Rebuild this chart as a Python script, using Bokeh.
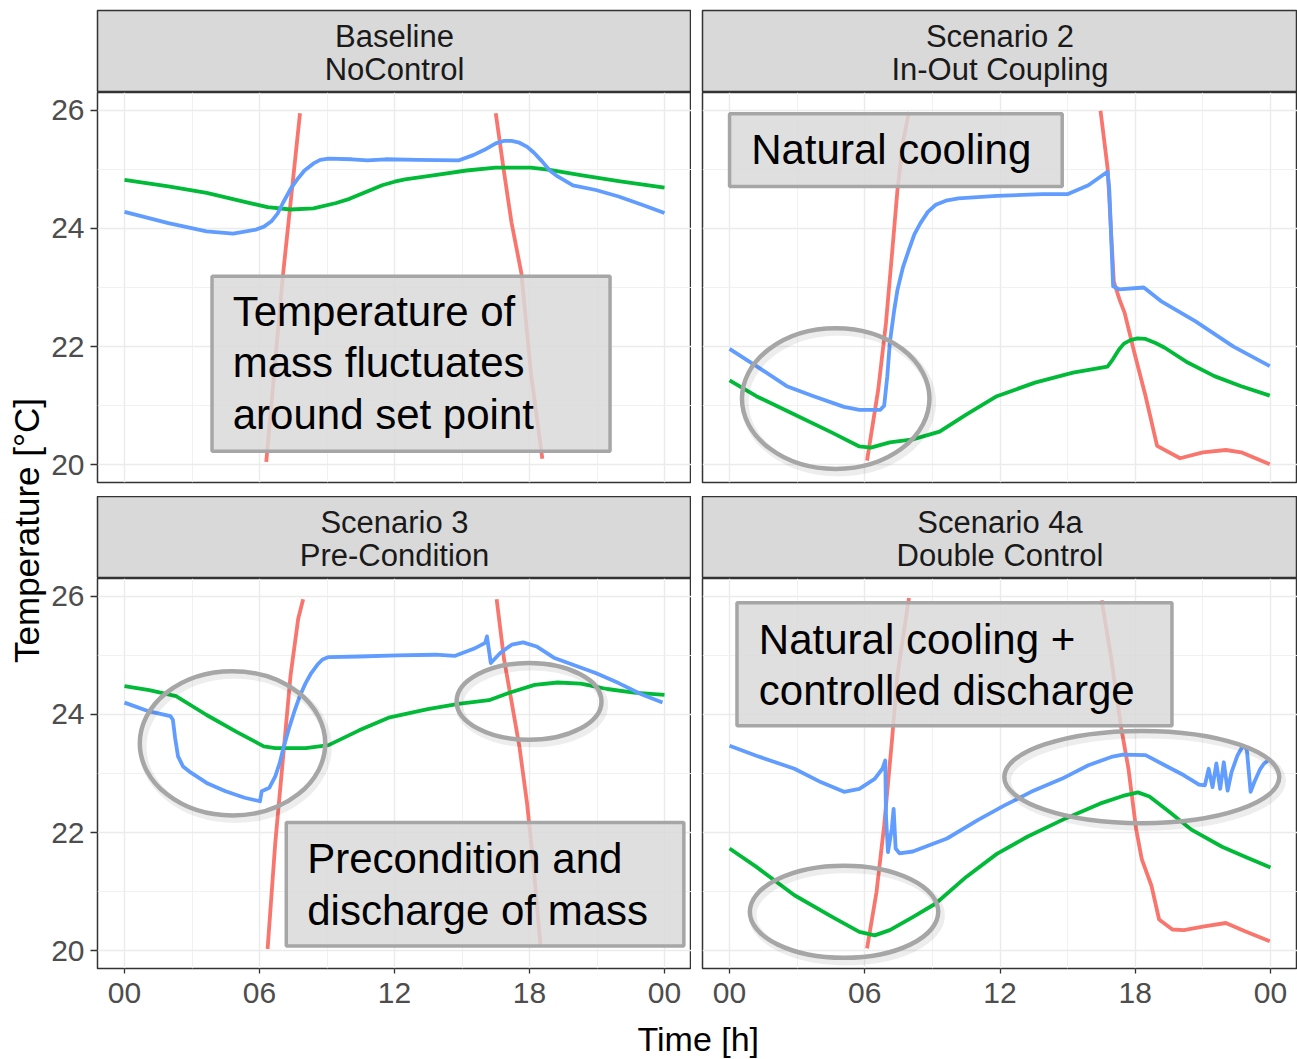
import math
from bokeh.plotting import figure
from bokeh.layouts import row, column
from bokeh.models import Range1d, LinearAxis, FixedTicker, Grid
from bokeh.core.properties import value
from bokeh.embed import file_html
from bokeh.resources import INLINE

nan = float("nan")

# ---------------- data ----------------
x_ticks = [0, 6, 12, 18, 24]
x_minor = [3, 9, 15, 21]
x_tick_labels = ["00", "06", "12", "18", "00"]
y_ticks = [20, 22, 24, 26]
y_minor = [21, 23, 25]
y_tick_labels = ["20", "22", "24", "26"]

strip_tl = ["Baseline", "NoControl"]
strip_tr = ["Scenario 2", "In-Out Coupling"]
strip_bl = ["Scenario 3", "Pre-Condition"]
strip_br = ["Scenario 4a", "Double Control"]

# Baseline / NoControl
tl_blue_t = [0, 1.95, 3.65, 4.83, 5.85, 6.2, 6.53, 6.8, 7.04, 7.4, 7.72, 8.0, 8.4, 8.7, 9.07, 10.1, 10.8, 11.6,
             13.0, 14.84, 15.5, 16.0, 16.5, 16.85, 17.2, 17.55, 17.9, 18.2, 18.57, 18.9, 19.25, 19.93, 20.95,
             21.96, 23.0, 24.0]
tl_blue_v = [24.28, 24.09, 23.95, 23.91, 23.98, 24.03, 24.12, 24.25, 24.43, 24.68, 24.85, 24.98, 25.1, 25.16,
             25.18, 25.17, 25.15, 25.17, 25.16, 25.15, 25.24, 25.33, 25.44, 25.48, 25.48, 25.45, 25.38, 25.28,
             25.13, 24.98, 24.88, 24.73, 24.65, 24.54, 24.4, 24.26]
tl_green_t = [0, 1.95, 3.65, 5.34, 6.36, 7.38, 8.4, 9.41, 10.0, 10.43, 11.0, 11.45, 12.0, 12.47, 13.8, 15.2,
              16.5, 18.06, 18.9, 20.27, 21.96, 24.0]
tl_green_v = [24.82, 24.71, 24.6, 24.45, 24.36, 24.32, 24.34, 24.43, 24.5, 24.57, 24.66, 24.73, 24.79, 24.83,
              24.9, 24.98, 25.03, 25.03, 24.99, 24.9, 24.8, 24.69]
tl_red_t = [6.3, 7.04, 7.8, nan, 16.5, 16.85, 17.2, 17.64, 18.06, 18.57]
tl_red_v = [20.05, 23.2, 25.95, nan, 25.95, 25.0, 24.1, 23.24, 21.56, 20.1]

# Scenario 2 / In-Out Coupling
tr_blue_t = [0, 1.19, 2.54, 3.73, 5.08, 5.76, 6.69, 6.86, 7.0, 7.11, 7.3, 7.45, 7.7, 7.96, 8.2, 8.47, 8.8, 9.15,
             9.6, 10.16, 11.86, 13.89, 14.99, 15.92, 16.77, 16.85, 17.02, 17.28, 18.38, 19.14, 20.66, 22.36,
             23.97]
tr_blue_v = [21.96, 21.67, 21.33, 21.16, 20.98, 20.93, 20.93, 21.0, 21.5, 22.06, 22.6, 22.96, 23.35, 23.64, 23.9,
             24.09, 24.28, 24.4, 24.47, 24.51, 24.55, 24.58, 24.58, 24.73, 24.96, 24.65, 23.02, 22.97, 23.0,
             22.77, 22.43, 22.0, 21.67]
tr_green_t = [0, 1.19, 2.88, 4.57, 5.76, 6.27, 7.11, 8.13, 9.32, 10.5, 11.86, 13.55, 15.24, 16.77, 17.0, 17.28,
              17.5, 17.79, 18.1, 18.46, 18.9, 19.31, 20.33, 21.51, 22.7, 23.97]
tr_green_v = [21.43, 21.16, 20.85, 20.54, 20.31, 20.29, 20.38, 20.43, 20.56, 20.85, 21.16, 21.39, 21.56, 21.66,
              21.78, 21.95, 22.05, 22.11, 22.14, 22.13, 22.06, 21.98, 21.73, 21.5, 21.33, 21.17]
tr_red_t = [6.1, 6.6, 6.94, 7.2, 7.45, 7.71, 7.96, nan, 16.46, 16.62, 16.78, 16.92, 17.05, 17.3, 17.53, 17.96,
            18.46, 18.97, 19.99, 21.0, 22.02, 22.7, 23.97]
tr_red_v = [20.07, 21.28, 22.4, 23.53, 24.65, 25.49, 25.97, nan, 25.99, 25.5, 25.0, 24.0, 23.1, 22.8, 22.57,
            21.9, 21.16, 20.32, 20.11, 20.21, 20.25, 20.21, 20.01]

# Scenario 3 / Pre-Condition
bl_blue_t = [0, 1.1, 2.04, 2.15, 2.25, 2.38, 2.6, 2.97, 3.65, 4.49, 5.34, 6.02, 6.1, 6.44, 6.7, 6.9, 7.04, 7.3,
             7.55, 7.8, 8.05, 8.3, 8.57, 8.8, 9.07, 10.43, 12.13, 13.82, 14.67, 15.52, 16.03, 16.11, 16.28, 16.7,
             17.21, 17.72, 18.31, 19.08, 19.93, 20.94, 21.96, 22.97, 23.91]
bl_blue_v = [24.2, 24.05, 23.97, 23.91, 23.6, 23.29, 23.12, 23.01, 22.84, 22.7, 22.59, 22.53, 22.7, 22.76, 22.95,
             23.18, 23.4, 23.75, 24.05, 24.32, 24.53, 24.7, 24.84, 24.93, 24.97, 24.98, 25.0, 25.01, 24.99, 25.11,
             25.21, 25.32, 24.87, 25.04, 25.18, 25.22, 25.15, 24.96, 24.84, 24.7, 24.53, 24.34, 24.2]
bl_green_t = [0, 1.1, 2.29, 3.65, 5.0, 6.19, 6.7, 8.06, 9.07, 10.43, 11.79, 13.48, 14.84, 16.2, 17.21, 18.23,
              19.25, 20.27, 21.45, 22.64, 24.0]
bl_green_v = [24.48, 24.41, 24.31, 23.99, 23.7, 23.46, 23.43, 23.43, 23.48, 23.73, 23.95, 24.09, 24.18, 24.24,
              24.38, 24.5, 24.54, 24.52, 24.43, 24.37, 24.33]
bl_red_t = [6.36, 6.7, 7.04, 7.38, 7.72, 7.94, nan, 16.54, 16.87, 17.21, 17.55, 17.89, 18.15, 18.49]
bl_red_v = [20.03, 21.82, 23.24, 24.66, 25.62, 25.95, nan, 25.95, 24.93, 24.2, 23.46, 22.5, 21.55, 20.08]

# Scenario 4a / Double Control
br_blue_t = [0, 1.19, 2.88, 4.07, 5.08, 5.76, 6.44, 6.78, 6.91, 6.94, 7.03, 7.2, 7.28, 7.37, 7.54, 8.13, 9.65,
             11.01, 12.2, 13.38, 14.74, 15.92, 16.94, 17.45, 18.46, 19.31, 20.16, 20.83, 21.09, 21.26, 21.43,
             21.6, 21.77, 21.93, 22.1, 22.27, 22.53, 22.78, 22.95, 23.12, 23.29, 23.55, 23.72, 24.0]
br_blue_v = [23.47, 23.3, 23.08, 22.85, 22.69, 22.74, 22.91, 23.08, 23.22, 22.29, 21.67, 22.07, 22.4, 21.73,
             21.65, 21.68, 21.9, 22.21, 22.46, 22.69, 22.91, 23.14, 23.28, 23.32, 23.31, 23.14, 22.97, 22.81,
             22.8, 23.08, 22.77, 23.17, 22.74, 23.19, 22.71, 23.02, 23.3, 23.47, 23.41, 22.69, 22.86, 23.08,
             23.17, 23.25]
br_green_t = [0, 1.19, 2.88, 4.57, 5.76, 6.44, 7.11, 8.13, 9.15, 10.5, 11.86, 13.21, 14.91, 16.43, 17.45, 18.12,
              18.63, 19.48, 20.49, 21.85, 22.87, 24.0]
br_green_v = [21.73, 21.42, 20.94, 20.57, 20.32, 20.26, 20.35, 20.57, 20.8, 21.25, 21.64, 21.93, 22.24, 22.49,
              22.62, 22.68, 22.61, 22.36, 22.05, 21.76, 21.59, 21.41]
br_red_t = [6.1, 6.52, 6.86, 7.2, 7.45, 7.71, 7.96, nan, 16.51, 16.94, 17.36, 17.7, 18.04, 18.29, 18.72, 19.06,
            19.65, 20.16, 21.0, 22.02, 22.87, 23.97]
br_red_v = [20.04, 20.99, 22.12, 23.53, 24.66, 25.34, 25.97, nan, 25.93, 24.94, 23.81, 23.08, 22.06, 21.55,
            21.1, 20.53, 20.36, 20.35, 20.41, 20.47, 20.33, 20.16]

note_tl = ["Temperature of", "mass fluctuates", "around set point"]
note_tr = ["Natural cooling"]
note_bl = ["Precondition and", "discharge of mass"]
note_br = ["Natural cooling +", "controlled discharge"]

# ---------------- style / layout ----------------
FONT = value("Liberation Sans")
RED, GREEN, BLUE = "#F8766D", "#00BA38", "#619CFF"
YLAB_W, LEFT_B, FRAME_W, GAP = 48, 48, 595, 11
TOP_M, STRIP_H, FRAME_H, MID_GAP, AX_H, XLAB_H = 10, 82, 390, 14, 50, 40
X_RANGE = (-1.2, 25.2)
Y_RANGE = (19.7, 26.3)


def strip_grids(p):
    p.center = [r for r in p.center if not isinstance(r, Grid)]


def make_strip(lines, left_border, top_border):
    p = figure(width=left_border + FRAME_W, height=top_border + STRIP_H,
               x_range=Range1d(0, 1), y_range=Range1d(0, 1),
               x_axis_location=None, y_axis_location=None,
               toolbar_location=None, output_backend="svg",
               min_border=0, min_border_left=left_border, min_border_top=top_border,
               min_border_right=0, min_border_bottom=0,
               background_fill_color="#D9D9D9", border_fill_color="white",
               outline_line_color="#333333", outline_line_width=1.5)
    strip_grids(p)
    p.text(x=[0.5, 0.5], y=[0.684, 0.278], text=lines, text_font=FONT,
           text_font_size="31px", text_color="#1A1A1A",
           text_align="center", text_baseline="middle")
    return p


def make_panel(blue, green, red, left_border, bottom_border, left_axis, bottom_axis,
               box, note, note_xy, ellipses):
    p = figure(width=left_border + FRAME_W, height=FRAME_H + bottom_border,
               x_range=Range1d(*X_RANGE), y_range=Range1d(*Y_RANGE),
               x_axis_location=None, y_axis_location=None,
               toolbar_location=None, output_backend="svg",
               min_border=0, min_border_left=left_border, min_border_bottom=bottom_border,
               min_border_top=0, min_border_right=0,
               background_fill_color="white", border_fill_color="white",
               outline_line_color="#333333", outline_line_width=1.5)
    strip_grids(p)
    for dim, ticks, minor in ((0, x_ticks, x_minor), (1, y_ticks, y_minor)):
        g = Grid(dimension=dim, ticker=FixedTicker(ticks=ticks, minor_ticks=minor),
                 grid_line_color="#EBEBEB", grid_line_width=1.4,
                 minor_grid_line_color="#EFEFEF", minor_grid_line_width=0.9)
        p.add_layout(g)
    if left_axis:
        ax = LinearAxis(ticker=FixedTicker(ticks=y_ticks),
                        major_label_overrides=dict(zip(y_ticks, y_tick_labels)),
                        axis_line_color=None, major_tick_line_color="#333333",
                        major_tick_line_width=1.3, major_tick_in=0, major_tick_out=7,
                        minor_tick_line_color=None, major_label_standoff=6,
                        major_label_text_font="Liberation Sans",
                        major_label_text_font_size="30px",
                        major_label_text_color="#4D4D4D")
        p.add_layout(ax, "left")
    if bottom_axis:
        ax = LinearAxis(ticker=FixedTicker(ticks=x_ticks),
                        major_label_overrides=dict(zip(x_ticks, x_tick_labels)),
                        axis_line_color=None, major_tick_line_color="#333333",
                        major_tick_line_width=1.3, major_tick_in=0, major_tick_out=5,
                        minor_tick_line_color=None, major_label_standoff=9,
                        major_label_text_font="Liberation Sans",
                        major_label_text_font_size="30px",
                        major_label_text_color="#4D4D4D")
        p.add_layout(ax, "below")
    for (t, v), col in ((red, RED), (green, GREEN), (blue, BLUE)):
        p.line(t, v, line_color=col, line_width=3.8, line_join="round")
    for (cx, cy, hw, hh) in ellipses:
        p.ellipse(x=[cx + 0.12], y=[cy - 0.06], width=[2 * hw], height=[2 * hh],
                  fill_color=None, line_color="#000000", line_alpha=0.07, line_width=8)
        p.ellipse(x=[cx], y=[cy], width=[2 * hw], height=[2 * hh],
                  fill_color=None, line_color="#A6A6A6", line_width=4.5)
    l, r, b, t = box
    p.quad(left=[l], right=[r], bottom=[b], top=[t], fill_color="#D9D9D9", fill_alpha=0.85,
           line_color="#A6A6A6", line_width=3.5)
    nx, ny = note_xy
    p.text(x=[nx] * len(note), y=ny, text=note, text_font=FONT, text_font_size="42px",
           text_color="black", text_align="left", text_baseline="middle")
    return p


p_tl = make_panel((tl_blue_t, tl_blue_v), (tl_green_t, tl_green_v), (tl_red_t, tl_red_v),
                  LEFT_B, MID_GAP, True, False,
                  (3.89, 21.58, 20.23, 23.19), note_tl, (4.81, [22.59, 21.73, 20.85]), [])
p_tr = make_panel((tr_blue_t, tr_blue_v), (tr_green_t, tr_green_v), (tr_red_t, tr_red_v),
                  GAP, MID_GAP, False, False,
                  (0.0, 14.76, 24.71, 25.94), note_tr, (0.96, [25.33]),
                  [(4.71, 21.12, 4.16, 1.19)])
p_bl = make_panel((bl_blue_t, bl_blue_v), (bl_green_t, bl_green_v), (bl_red_t, bl_red_v),
                  LEFT_B, AX_H, True, True,
                  (7.19, 24.86, 20.08, 22.17), note_bl, (8.12, [21.56, 20.69]),
                  [(4.8, 23.51, 4.12, 1.22), (17.98, 24.22, 3.22, 0.65)])
p_br = make_panel((br_blue_t, br_blue_v), (br_green_t, br_green_v), (br_red_t, br_red_v),
                  GAP, AX_H, False, True,
                  (0.33, 19.63, 23.81, 25.89), note_br, (1.3, [25.26, 24.41]),
                  [(5.08, 20.66, 4.18, 0.78), (18.29, 22.94, 6.1, 0.78)])

s_tl = make_strip(strip_tl, LEFT_B, TOP_M)
s_tr = make_strip(strip_tr, GAP, TOP_M)
s_bl = make_strip(strip_bl, LEFT_B, 0)
s_br = make_strip(strip_br, GAP, 0)

col_h = TOP_M + STRIP_H + FRAME_H + MID_GAP + STRIP_H + FRAME_H + AX_H

ylab = figure(width=YLAB_W, height=col_h, x_range=Range1d(0, 1), y_range=Range1d(0, 1),
              x_axis_location=None, y_axis_location=None, toolbar_location=None,
              output_backend="svg", min_border=0, outline_line_color=None)
strip_grids(ylab)
ylab.text(x=[0.54], y=[(col_h - 530) / col_h], text=["Temperature [°C]"], angle=math.pi / 2,
          text_font=FONT, text_font_size="35px", text_color="black",
          text_align="center", text_baseline="middle")

total_w = YLAB_W + LEFT_B + FRAME_W + GAP + FRAME_W
xlab = figure(width=total_w, height=XLAB_H, x_range=Range1d(0, 1), y_range=Range1d(0, 1),
              x_axis_location=None, y_axis_location=None, toolbar_location=None,
              output_backend="svg", min_border=0, outline_line_color=None)
strip_grids(xlab)
xlab.text(x=[0.538], y=[0.5], text=["Time [h]"], text_font=FONT, text_font_size="34px",
          text_color="black", text_align="center", text_baseline="middle")

layout = column(
    row(ylab, column(s_tl, p_tl, s_bl, p_bl), column(s_tr, p_tr, s_br, p_br)),
    xlab,
)

open("out.html", "w").write(file_html(layout, INLINE))
